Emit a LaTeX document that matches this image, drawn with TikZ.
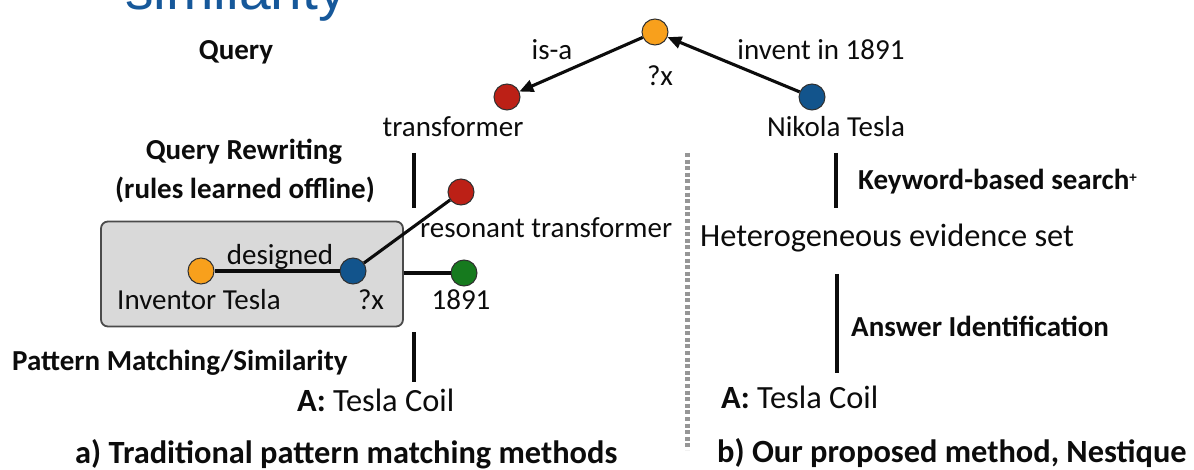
\documentclass[tikz,border=0pt]{standalone}
\usepackage{fontspec}
\setmainfont{Carlito}
\newfontfamily\titlefont{Liberation Sans}
\usetikzlibrary{arrows.meta}

\definecolor{ink}{RGB}{12,12,12}
\definecolor{titleblue}{RGB}{22,88,154}
\definecolor{dotorange}{RGB}{248,160,28}
\definecolor{dotred}{RGB}{188,32,22}
\definecolor{dotblue}{RGB}{18,84,140}
\definecolor{dotgreen}{RGB}{22,122,30}
\definecolor{boxgray}{RGB}{217,217,217}
\definecolor{boxedge}{RGB}{75,75,75}
\definecolor{divider}{RGB}{150,150,150}

\begin{document}
\begin{tikzpicture}[x=1pt,y=-1pt,
  dot/.style={circle,draw=ink!85,line width=1pt,minimum size=26pt,inner sep=0pt},
  lbl/.style={inner sep=0pt,text=ink,font=\fontsize{29}{33}\selectfont},
  blbl/.style={inner sep=0pt,text=ink,font=\fontsize{29}{33}\selectfont\bfseries},
  big/.style={inner sep=0pt,text=ink,font=\fontsize{32.4}{36}\selectfont},
  bigb/.style={inner sep=0pt,text=ink,font=\fontsize{32.4}{36}\selectfont\bfseries},
  edge/.style={draw=ink,line width=3.1pt},
  arr/.style={edge,-{Triangle[length=14pt,width=12pt]}},
  stage/.style={draw=ink,line width=3.1pt},
]
\clip (0,0) rectangle (1194,470);
\useasboundingbox (0,0) rectangle (1194,470);

% slide heading, only its lower part shows
\node[anchor=base west,inner sep=0pt,text=titleblue,
      font=\titlefont\fontsize{57}{60}\selectfont] (heading) at (125,10) {similarity};

% ---------- query graph ----------
\node[dot,fill=dotorange] (qx)    at (655,32) {};
\node[dot,fill=dotred]    (trans) at (507,97) {};
\node[dot,fill=dotblue]   (tesla) at (812,97) {};
\draw[arr] (qx) -- (trans);
\draw[arr] (tesla) -- (qx);

\node[blbl,anchor=base] (query) at (236,60) {Query};
\node[lbl,anchor=base]  (isa)   at (552,60) {is-a};
\node[lbl,anchor=base]  (inv)   at (821,60) {invent in 1891};
\node[lbl,anchor=base]  (qxl)   at (660,86) {?x};
\node[lbl,anchor=base]  (transl) at (453,137) {transformer};
\node[lbl,anchor=base]  (teslal) at (836,137) {Nikola Tesla};

% ---------- a) traditional pattern matching ----------
\node[blbl,anchor=base] (rw1) at (244,160) {Query Rewriting};
\node[blbl,anchor=base] (rw2) at (245,199) {(rules learned offline)};
\coordinate (la1) at (414,153);
\coordinate (la2) at (414,208);
\draw[stage] (la1) -- (la2);

\node[draw=boxedge,fill=boxgray,rounded corners=7pt,line width=1.8pt,
      minimum width=302pt,minimum height=105pt,inner sep=0pt] (box) at (252,274) {};

\node[dot,fill=dotorange] (inventor) at (201,271) {};
\node[dot,fill=dotblue]   (qx2)      at (353,271) {};
\node[dot,fill=dotred]    (reson)    at (461,192) {};
\node[dot,fill=dotgreen]  (year)     at (464,273) {};
\draw[edge] (inventor) -- (qx2);
\draw[edge] (qx2) -- (reson);
\draw[edge] (box.east |- year) -- (year);

\node[lbl,anchor=base]      (designed) at (280,265) {designed};
\node[lbl,anchor=base west] (resonl)   at (420,238) {resonant transformer};
\node[lbl,anchor=base west] (inventl)  at (117,310) {Inventor Tesla};
\node[lbl,anchor=base]      (qx2l)     at (371,310) {?x};
\node[lbl,anchor=base]      (yearl)    at (461,310) {1891};

\coordinate (lb1) at (414,332);
\coordinate (lb2) at (414,382);
\draw[stage] (lb1) -- (lb2);
\node[blbl,anchor=base west] (pm)    at (12,370) {Pattern Matching/Similarity};
\node[big,anchor=base west]  (ansa)  at (297,411) {\textbf{A:} Tesla Coil};
\node[bigb,anchor=base west] (capa)  at (75,463) {a) Traditional pattern matching methods};

% ---------- divider ----------
\coordinate (d1) at (687,153);
\coordinate (d2) at (687,450);
\draw[divider,line width=5pt,dash pattern=on 4pt off 2.6pt] (d1) -- (d2);

% ---------- b) proposed method ----------
\coordinate (ra1) at (836,153);
\coordinate (ra2) at (836,208);
\draw[stage] (ra1) -- (ra2);
\node[blbl,anchor=base west] (kw) at (858,190)
  {Keyword-based search\raisebox{0.5ex}{\fontsize{15}{15}\selectfont +}};
\node[big,anchor=base west] (het) at (700,247) {Heterogeneous evidence set};
\coordinate (rb1) at (837,274);
\coordinate (rb2) at (837,373);
\draw[stage] (rb1) -- (rb2);
\node[blbl,anchor=base west] (ai)   at (851,337) {Answer Identification};
\node[big,anchor=base west]  (ansb) at (721,408) {\textbf{A:} Tesla Coil};
\node[bigb,anchor=base west] (capb) at (717,462) {b) Our proposed method, Nestique};
\end{tikzpicture}
\end{document}
